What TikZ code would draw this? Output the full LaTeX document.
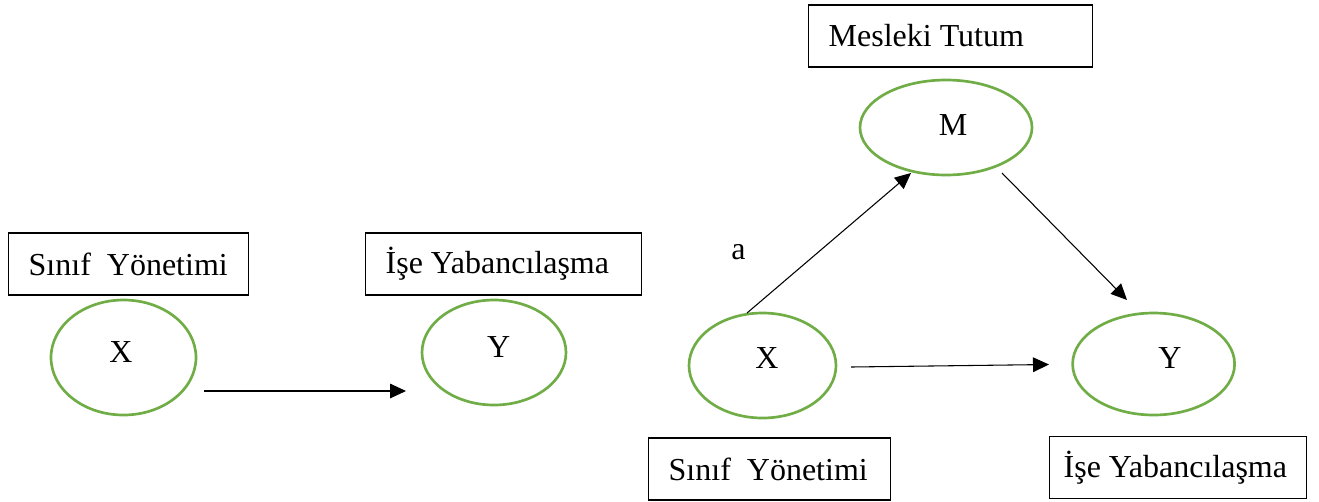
\documentclass[tikz,border=0pt]{standalone}
\usepackage{fontspec}
\setmainfont{Liberation Serif}
\usetikzlibrary{shapes.geometric,arrows.meta}
\definecolor{ogreen}{HTML}{70AD47}
\tikzset{
  box/.style={draw=black, line width=1pt, inner xsep=15pt, inner ysep=0pt, minimum height=46.5pt, anchor=west},
  oval/.style={ellipse, draw=ogreen, line width=2pt, inner sep=0pt},
  lbl/.style={inner sep=0pt},
  conn/.style={line width=0.8pt, -{Triangle[length=12pt,width=11pt]}}
}
\newcommand{\boxtext}[2]{\makebox[#1][l]{#2}}
\begin{document}
\begin{tikzpicture}[x=0.75pt,y=-0.75pt,font=\fontsize{24}{28}\selectfont]
\useasboundingbox (0,0) rectangle (1319,501);
% boxes
\node[box] (b1) at (8,264) {\boxtext{150pt}{Sınıf\ \ Yönetimi}};
\node[box] (b2) at (365,264) {\boxtext{177pt}{İşe Yabancılaşma}};
\node[box] (b3) at (808,36) {\boxtext{183pt}{Mesleki Tutum}};
\node[box] (b4) at (648,469) {\boxtext{151.5pt}{Sınıf\ \ Yönetimi}};
\node[box, inner xsep=10.5pt] (b5) at (1049,467.5) {\boxtext{171.75pt}{İşe Yabancılaşma}};
% ellipses
\node[oval, minimum width=108.75pt, minimum height=86.25pt] (ex1) at (123.5,357.5) {};
\node[oval, minimum width=108pt, minimum height=78.75pt] (ey1) at (494,352.5) {};
\node[oval, minimum width=129pt, minimum height=71.25pt] (em) at (946,127.5) {};
\node[oval, minimum width=110.25pt, minimum height=78.75pt] (ex2) at (762.5,365.5) {};
\node[oval, minimum width=121.5pt, minimum height=76.5pt] (ey2) at (1153.6,364) {};
% letters
\node[lbl] (tx1) at (121,352) {X};
\node[lbl] (ty1) at (498.7,347) {Y};
\node[lbl] (tm) at (953,125) {M};
\node[lbl] (tx2) at (767,358) {X};
\node[lbl] (ty2) at (1170,358) {Y};
\node[lbl] (ta) at (738.5,252) {a};
% connector end points
\coordinate (p1s) at (204,391);
\coordinate (p1e) at (406,391);
\coordinate (p2s) at (747,313);
\coordinate (p2e) at (911,173);
\coordinate (p3s) at (1002,173);
\coordinate (p3e) at (1127,300);
\coordinate (p4s) at (851,367);
\coordinate (p4e) at (1049,364.5);
% connectors
\draw[conn] (p1s) -- (p1e);
\draw[conn] (p2s) -- (p2e);
\draw[conn] (p3s) -- (p3e);
\draw[conn] (p4s) -- (p4e);
\end{tikzpicture}
\end{document}
